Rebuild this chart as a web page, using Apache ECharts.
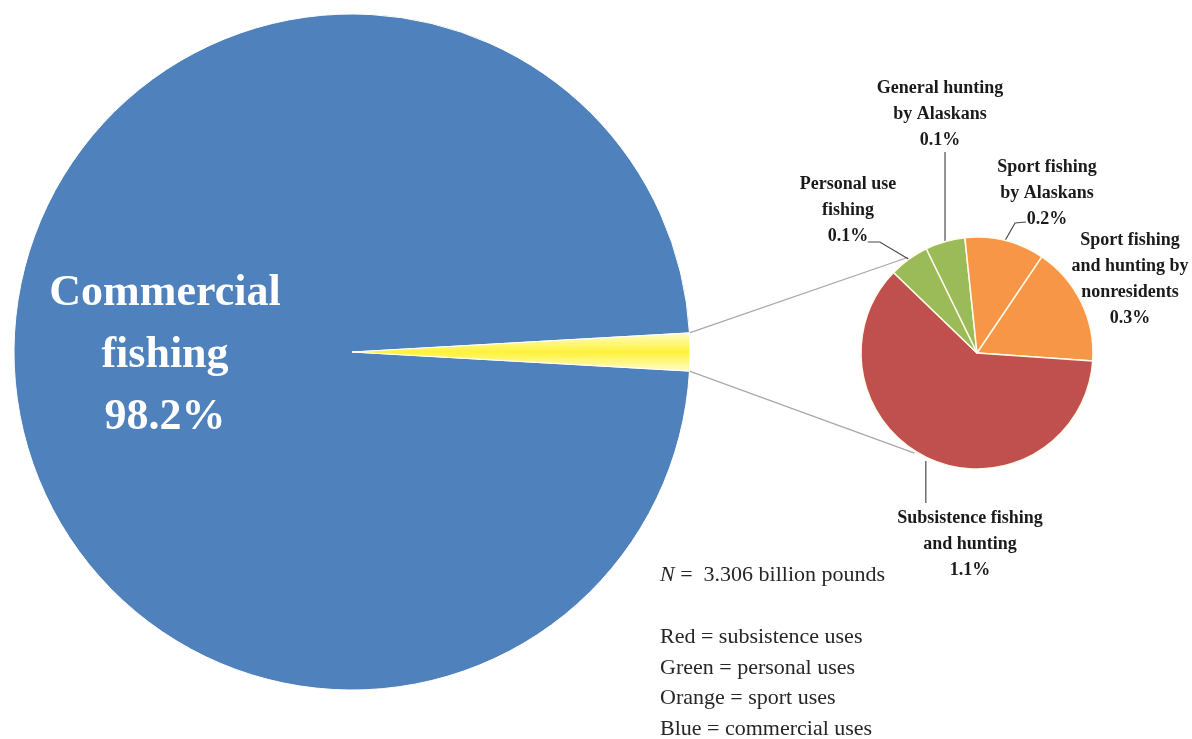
<!DOCTYPE html>
<html>
<head>
<meta charset="utf-8">
<script src="https://cdn.jsdelivr.net/npm/echarts@6/dist/echarts.min.js"></script>
<style>
html,body{margin:0;padding:0;background:#fff;}
#chart{width:1192px;height:739px;}
</style>
</head>
<body>
<div id="chart"></div>
<script>
// ---- data ----
const mainCategories = ['Commercial\nfishing', 'Other uses'];
const mainValues = [98.2, 1.8];
const detailCategories = [
  'General hunting\nby Alaskans',
  'Sport fishing\nby Alaskans',
  'Sport fishing\nand hunting by\nnonresidents',
  'Subsistence fishing\nand hunting',
  'Personal use\nfishing'
];
const detailValues = [0.1, 0.2, 0.3, 1.1, 0.1];
const noteLines = ['Red = subsistence uses', 'Green = personal uses', 'Orange = sport uses', 'Blue = commercial uses'];
const totalText = '3.306 billion pounds';

// ---- layout ----
const bigC = [352, 352], bigR = 338;
const smallC = [977, 353], smallR = 116;
const smallStart = 116;
const mainTotal = mainValues.reduce((a, b) => a + b, 0);
const otherHalf = mainValues[1] / mainTotal * 360 / 2;
const bigStart = 360 - otherHalf;

const detailColors = ['#9BBB59', '#F79646', '#F79646', '#C0504D', '#9BBB59'];
const labelPos = [[940, 114], [1047, 193], [1130, 279], [970, 544], [848, 210]];

const detailTotal = detailValues.reduce((a, b) => a + b, 0);
const midAngles = [];
(function () {
  let a = smallStart;
  detailValues.forEach(v => {
    const span = v / detailTotal * 360;
    midAngles.push(a - span / 2);
    a -= span;
  });
})();
function polar(c, r, deg) {
  const t = deg * Math.PI / 180;
  return [c[0] + r * Math.cos(t), c[1] - r * Math.sin(t)];
}
function leader(i) {
  const e = polar(smallC, smallR, midAngles[i]);
  switch (i) {
    case 0: return [e, [e[0], labelPos[0][1] + 38]];
    case 1: return [e, [e[0] + 10, labelPos[1][1] + 30], [e[0] + 21, labelPos[1][1] + 29]];
    case 3: return [[e[0] - 4, e[1] + 2], [e[0] - 4, labelPos[3][1] - 41]];
    case 4: return [e, [e[0] - 29, labelPos[4][1] + 32], [e[0] - 41, labelPos[4][1] + 32]];
    default: return [e, e];
  }
}

const chart = echarts.init(document.getElementById('chart'));
const yellow = new echarts.graphic.LinearGradient(0, 0, 0, 1, [
  { offset: 0, color: '#FFFCCC' },
  { offset: 0.5, color: '#FFF23A' },
  { offset: 1, color: '#FFFCCC' }
]);

// connector lines from wedge edges to small pie
const wTop = polar(bigC, bigR, otherHalf);
const wBot = polar(bigC, bigR, -otherHalf);
const sTop = polar(smallC, smallR + 2, 126);
const sBot = polar(smallC, smallR + 2, -122);

const serif = '"Liberation Serif", "DejaVu Serif", serif';

chart.setOption({
  animation: false,
  backgroundColor: '#ffffff',
  graphic: [
    { type: 'line', z: 1, shape: { x1: wTop[0], y1: wTop[1], x2: sTop[0], y2: sTop[1] }, style: { stroke: '#A8A8A8', lineWidth: 1.2 } },
    { type: 'line', z: 1, shape: { x1: wBot[0], y1: wBot[1], x2: sBot[0], y2: sBot[1] }, style: { stroke: '#A8A8A8', lineWidth: 1.2 } },
    {
      type: 'text', left: 660, top: 564,
      style: {
        text: '{i|N}{n| =  ' + totalText + '}',
        rich: {
          i: { fontFamily: serif, fontSize: 22, fontStyle: 'italic', fill: '#262626' },
          n: { fontFamily: serif, fontSize: 22, fill: '#262626' }
        }
      }
    },
    {
      type: 'text', left: 660, top: 622,
      style: { text: noteLines.join('\n'), fontFamily: serif, fontSize: 22, lineHeight: 30.5, fill: '#262626' }
    }
  ],
  series: [
    {
      type: 'pie',
      center: bigC,
      radius: bigR,
      startAngle: bigStart,
      clockwise: true,
      avoidLabelOverlap: false,
      silent: true,
      itemStyle: { borderColor: '#ffffff', borderWidth: 1 },
      label: {
        show: true, position: 'inside', color: '#ffffff',
        fontFamily: serif, fontSize: 44, fontWeight: 'bold', lineHeight: 62,
        formatter: '{b}\n{c}%'
      },
      labelLine: { show: false },
      labelLayout: function (p) {
        if (p.dataIndex === 0) return { x: 165, y: 356, align: 'center', verticalAlign: 'middle' };
        return {};
      },
      data: mainCategories.map((n, i) => ({
        name: n, value: mainValues[i],
        itemStyle: { color: i === 0 ? '#4F81BD' : yellow },
        label: { show: i === 0 }
      }))
    },
    {
      type: 'pie',
      center: smallC,
      radius: smallR,
      startAngle: smallStart,
      clockwise: true,
      avoidLabelOverlap: false,
      silent: true,
      itemStyle: { borderColor: '#FFFBEA', borderWidth: 1.5 },
      label: {
        show: true, position: 'outside', color: '#1A1A1A',
        fontFamily: serif, fontSize: 18, fontWeight: 'bold', lineHeight: 26, align: 'center',
        formatter: '{b}\n{c}%'
      },
      labelLine: { show: true, lineStyle: { color: '#4A4A4A', width: 1.2 } },
      labelLayout: function (p) {
        const i = p.dataIndex;
        return {
          x: labelPos[i][0], y: labelPos[i][1], align: 'center', verticalAlign: 'middle',
          labelLinePoints: leader(i)
        };
      },
      data: detailCategories.map((n, i) => ({
        name: n, value: detailValues[i],
        itemStyle: { color: detailColors[i] },
        labelLine: { show: i !== 2 }
      }))
    }
  ]
});
</script>
</body>
</html>
